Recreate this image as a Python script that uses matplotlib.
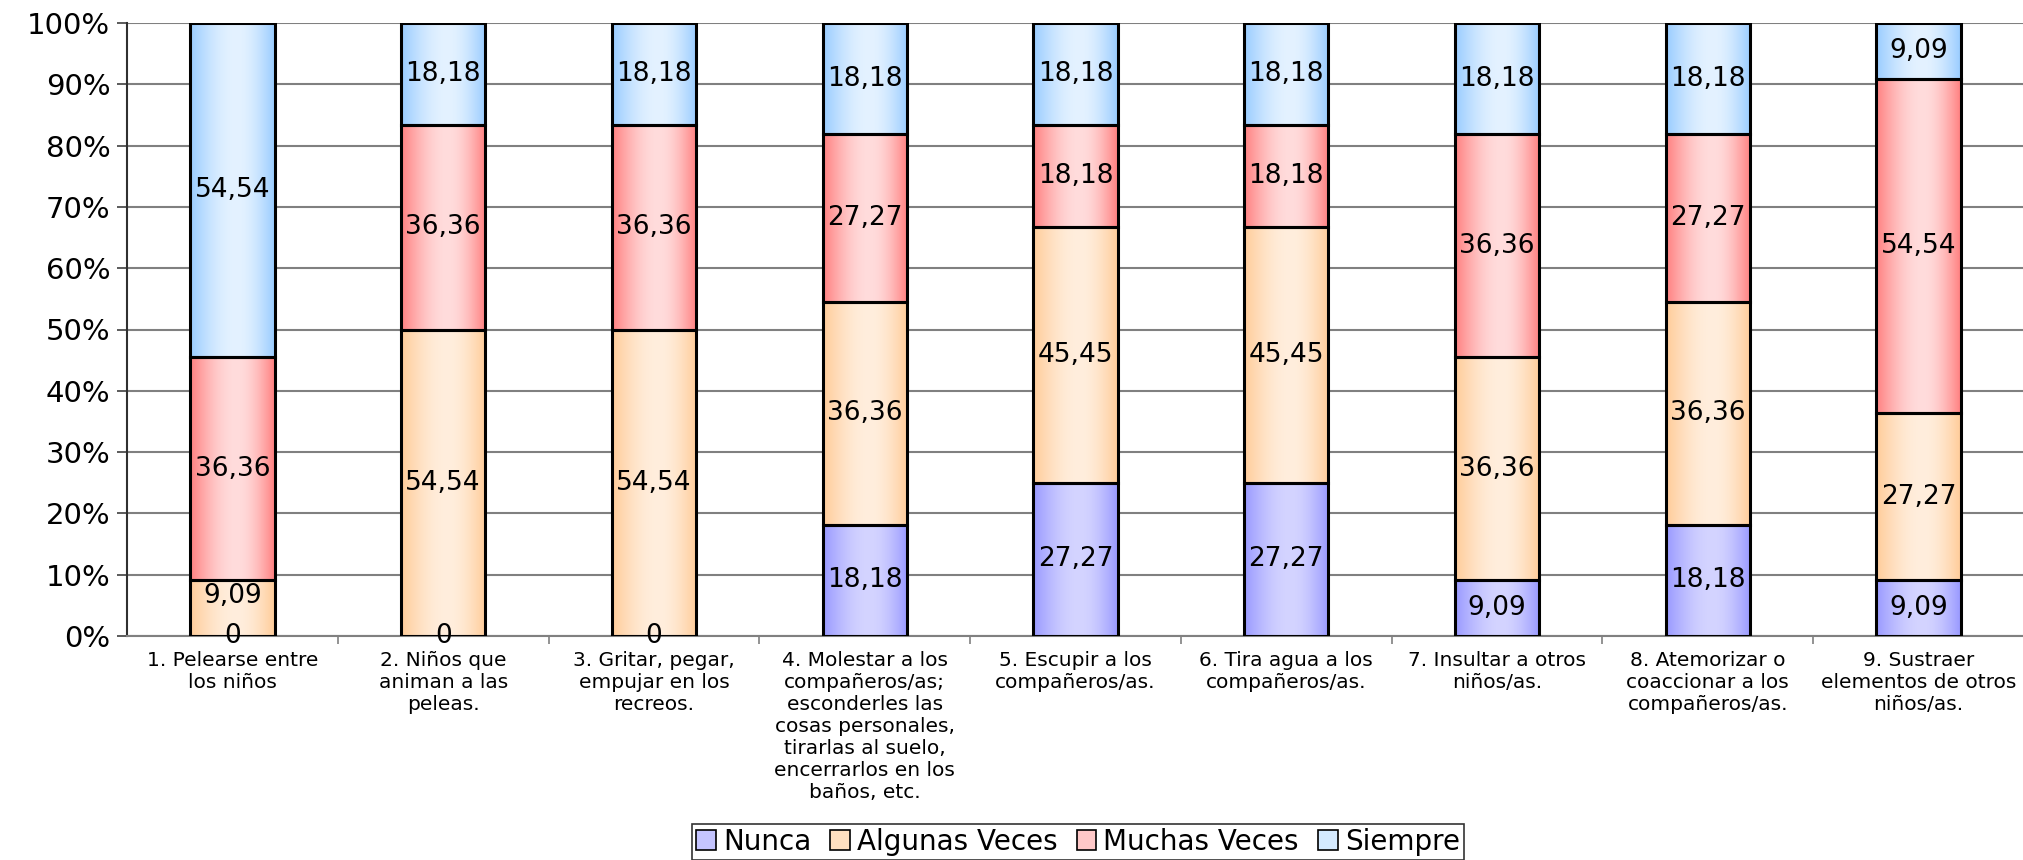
import numpy as np
import matplotlib
matplotlib.use("Agg")
import matplotlib.pyplot as plt
from matplotlib.colors import to_rgb
from matplotlib.patches import Rectangle, Patch

plt.rcParams['font.family'] = ['DejaVu Sans']

categories = [
    "1. Pelearse entre\nlos niños",
    "2. Niños que\naniman a las\npeleas.",
    "3. Gritar, pegar,\nempujar en los\nrecreos.",
    "4. Molestar a los\ncompañeros/as;\nesconderles las\ncosas personales,\ntirarlas al suelo,\nencerrarlos en los\nbaños, etc.",
    "5. Escupir a los\ncompañeros/as.",
    "6. Tira agua a los\ncompañeros/as.",
    "7. Insultar a otros\nniños/as.",
    "8. Atemorizar o\ncoaccionar a los\ncompañeros/as.",
    "9. Sustraer\nelementos de otros\nniños/as.",
]
series_names = ["Nunca", "Algunas Veces", "Muchas Veces", "Siempre"]
nunca = [0, 0, 0, 18.18, 27.27, 27.27, 9.09, 18.18, 9.09]
algunas = [9.09, 54.54, 54.54, 36.36, 45.45, 45.45, 36.36, 36.36, 27.27]
muchas = [36.36, 36.36, 36.36, 27.27, 18.18, 18.18, 36.36, 27.27, 54.54]
siempre = [54.54, 18.18, 18.18, 18.18, 18.18, 18.18, 18.18, 18.18, 9.09]

# (edge colour, centre colour) of each series' horizontal gradient
gradients = [
    ("#9999ff", "#d4d4ff"),
    ("#ffcc99", "#ffeedd"),
    ("#ff8080", "#ffdcdc"),
    ("#99ccff", "#e4f2ff"),
]
legend_colors = ["#c4c4ff", "#ffe0c0", "#ffc8c8", "#d4eaff"]


def gradient_strip(edge, centre, n=200, peak=0.55):
    e = np.array(to_rgb(edge))
    c = np.array(to_rgb(centre))
    t = np.linspace(0, 1, n)
    w = np.where(t < peak, t / peak, (1 - t) / (1 - peak))
    w = np.sin(w * np.pi / 2)
    return (e[None, :] * (1 - w[:, None]) + c[None, :] * w[:, None])[None, :, :]


def fmt(v):
    if v == 0:
        return "0"
    return f"{v:.2f}".replace(".", ",")


data = np.array([nunca, algunas, muchas, siempre])
totals = data.sum(axis=0)
pct = data / totals * 100

fig = plt.figure(figsize=(20.24, 8.6), dpi=100)
ax = fig.add_axes([127 / 2024, 1 - 636 / 860, 1 - 127 / 2024, 613 / 860])

width = 0.4
min_gap = 6.5  # keep stacked labels from sitting on top of each other
x = np.arange(len(categories))
bottoms = np.zeros(len(categories))
last_label = np.full(len(categories), -100.0)
for s in range(len(series_names)):
    strip = gradient_strip(*gradients[s])
    for i in range(len(categories)):
        y0 = bottoms[i]
        h = pct[s, i]
        x0 = x[i] - width / 2
        if h > 0:
            ax.imshow(strip, extent=(x0, x0 + width, y0, y0 + h),
                      aspect='auto', zorder=2, interpolation='bilinear')
            ax.add_patch(Rectangle((x0, y0), width, h, facecolor='none',
                                   edgecolor='black', linewidth=2.2, zorder=3))
        ly = max(y0 + h / 2, last_label[i] + min_gap)
        last_label[i] = ly
        ax.text(x[i], ly, fmt(data[s, i]), ha='center', va='center',
                fontsize=19, zorder=4)
    bottoms += pct[s]

ax.set_xlim(-0.5, len(categories) - 0.5)
ax.set_ylim(0, 100)
ax.set_yticks(np.arange(0, 101, 10))
ax.set_yticklabels([f"{v}%" for v in range(0, 101, 10)], fontsize=21)
ax.yaxis.grid(True, color='#808080', linewidth=1.5)
ax.set_axisbelow(True)

ax.set_xticks(x)
ax.set_xticklabels(categories, fontsize=14.5, linespacing=1.2)
ax.set_xticks(np.arange(0.5, len(categories) - 0.5, 1), minor=True)
ax.tick_params(axis='x', which='major', length=0, pad=11)
ax.tick_params(axis='x', which='minor', length=6, width=1.2, color='#808080')
ax.tick_params(axis='y', length=7, width=1.2, color='#404040', pad=5)

for side in ('top', 'right'):
    ax.spines[side].set_visible(False)
ax.spines['left'].set_color('#303030')
ax.spines['left'].set_linewidth(1.5)
ax.spines['bottom'].set_color('#808080')
ax.spines['bottom'].set_linewidth(1.5)

handles = [Patch(facecolor=c, edgecolor='black', linewidth=1.2) for c in legend_colors]
leg = fig.legend(handles, series_names, loc='lower center', ncol=4,
                 bbox_to_anchor=(1078 / 2024, 0.0), fontsize=20,
                 frameon=True, fancybox=False, handlelength=0.7, handleheight=0.7,
                 handletextpad=0.25, columnspacing=0.7, borderpad=0.15,
                 borderaxespad=0.0)
leg.get_frame().set_edgecolor('black')
leg.get_frame().set_linewidth(1.2)

fig.savefig("out.png", dpi=100)
